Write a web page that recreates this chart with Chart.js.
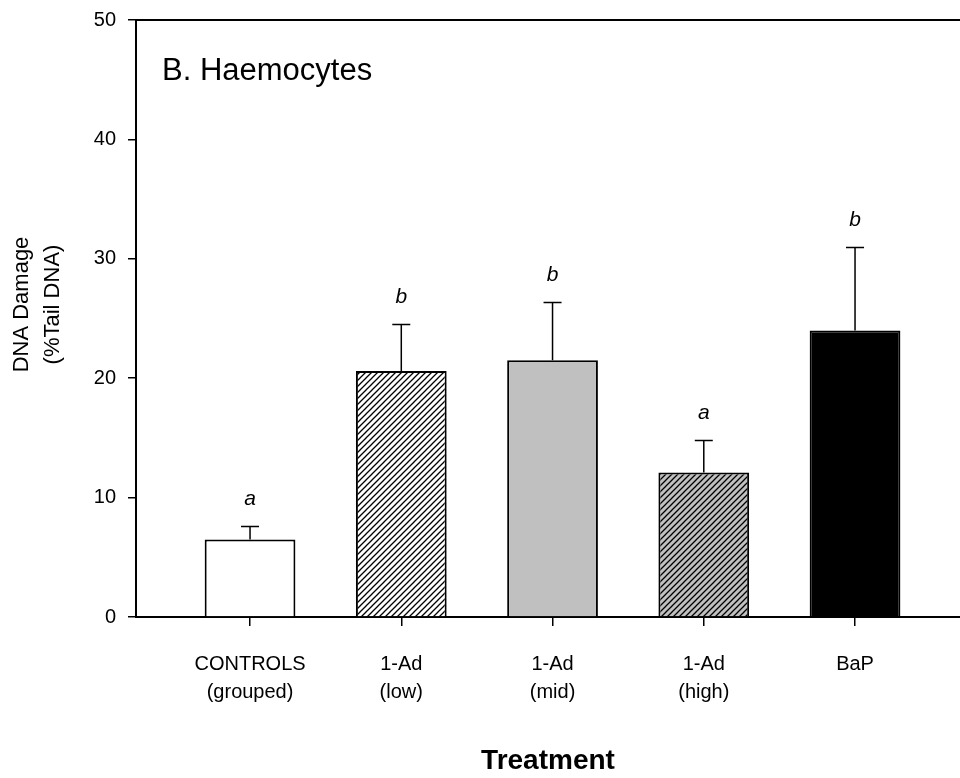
<!DOCTYPE html>
<html>
<head>
<meta charset="utf-8">
<script src="https://cdn.jsdelivr.net/npm/chart.js@4.4.1/dist/chart.umd.min.js"></script>
<style>
  html, body { margin: 0; padding: 0; background: #fff; }
  #wrap { width: 960px; height: 778px; }
</style>
</head>
<body>
<div id="wrap"><canvas id="damageChart"></canvas></div>
<script>
// treatments and values
const treatments = [['CONTROLS', '(grouped)'], ['1-Ad', '(low)'], ['1-Ad', '(mid)'], ['1-Ad', '(high)'], ['BaP']];
const tailDna = [6.5, 20.6, 21.5, 12.1, 24.0];
const tailDnaErr = [1.07, 3.9, 4.85, 2.68, 6.95];
const groupLetters = ['a', 'b', 'b', 'a', 'b'];
const yTicks = [0, 10, 20, 30, 40, 50];
const yTitle = ['DNA Damage', '(%Tail DNA)'];

const FONT = '"Liberation Sans", Arial, sans-serif';

// diagonal hatch fill
function hatch(bg) {
    const c = document.createElement('canvas');
    c.width = 6; c.height = 6;
    const g = c.getContext('2d');
    g.fillStyle = bg;
    g.fillRect(0, 0, 6, 6);
    g.strokeStyle = '#000';
    g.lineWidth = 1.3;
    g.beginPath();
    g.moveTo(-1, 7); g.lineTo(7, -1);
    g.moveTo(-1, 1); g.lineTo(1, -1);
    g.moveTo(5, 7); g.lineTo(7, 5);
    g.stroke();
    return g.createPattern(c, 'repeat');
}

const fills = ['#ffffff', hatch('#ffffff'), '#c0c0c0', hatch('#c0c0c0'), '#000000'];

// error bars, significance letters, panel label, top frame line, y title
const extras = {
    id: 'extras',
    afterDatasetsDraw(chart) {
        const ctx = chart.ctx;
        const y = chart.scales.y;
        const area = chart.chartArea;
        const bars = chart.getDatasetMeta(0).data;
        ctx.save();
        ctx.strokeStyle = '#000';
        ctx.lineWidth = 2;
        ctx.beginPath();
        ctx.moveTo(area.left, area.top);
        ctx.lineTo(area.right, area.top);
        ctx.stroke();
        ctx.lineWidth = 1.5;
        bars.forEach((bar, i) => {
            const top = y.getPixelForValue(tailDna[i]);
            const cap = y.getPixelForValue(tailDna[i] + tailDnaErr[i]);
            ctx.beginPath();
            ctx.moveTo(bar.x, top);
            ctx.lineTo(bar.x, cap);
            ctx.moveTo(bar.x - 9, cap);
            ctx.lineTo(bar.x + 9, cap);
            ctx.stroke();
            ctx.fillStyle = '#000';
            ctx.font = 'italic 21px ' + FONT;
            ctx.textAlign = 'center';
            ctx.textBaseline = 'middle';
            ctx.fillText(groupLetters[i], bar.x, cap - 27);
        });
        ctx.font = '31px ' + FONT;
        ctx.textAlign = 'left';
        ctx.textBaseline = 'alphabetic';
        ctx.fillText('B. Haemocytes', area.left + 26, area.top + 60);

        // y title sits a little above the axis middle in the original
        ctx.translate(22, (area.top + area.bottom) / 2 - 14);
        ctx.rotate(-Math.PI / 2);
        ctx.font = '22px ' + FONT;
        ctx.textAlign = 'center';
        ctx.textBaseline = 'middle';
        yTitle.forEach((t, i) => ctx.fillText(t, 0, i * 31));
        ctx.restore();
    }
};

new Chart(document.getElementById('damageChart'), {
    type: 'bar',
    data: {
        datasets: [{
            data: tailDna.map((v, i) => ({ x: i, y: v })),
            backgroundColor: fills,
            borderColor: '#000',
            borderWidth: 2,
            borderSkipped: 'start',
            categoryPercentage: 1,
            barPercentage: 0.6
        }]
    },
    options: {
        responsive: true,
        maintainAspectRatio: false,
        animation: false,
        layout: { padding: { top: 20, right: 0, bottom: 0, left: 0 } },
        plugins: {
            legend: { display: false },
            tooltip: { enabled: false }
        },
        scales: {
            x: {
                type: 'linear',
                position: 'bottom',
                offset: false,
                min: -0.754,
                max: 4.694,
                afterBuildTicks: (s) => { s.ticks = treatments.map((t, i) => ({ value: i })); },
                afterFit: (s) => { s.height = 161; s.paddingLeft = 0; s.paddingRight = 0; },
                ticks: {
                    callback: (v) => treatments[v],
                    color: '#000',
                    font: { family: FONT, size: 20, lineHeight: 1.4 },
                    padding: 24,
                    maxRotation: 0,
                    autoSkip: false
                },
                grid: { offset: false, drawOnChartArea: false, drawTicks: true, tickLength: 9, color: '#000', lineWidth: 1.5 },
                border: { display: true, color: '#000', width: 2 },
                title: {
                    display: true,
                    text: 'Treatment',
                    color: '#000',
                    font: { family: FONT, size: 28, weight: 'bold', lineHeight: 1.2 },
                    padding: { top: 0, bottom: 0 }
                }
            },
            y: {
                min: 0,
                max: 50,
                afterBuildTicks: (s) => { s.ticks = yTicks.map(v => ({ value: v })); },
                afterFit: (s) => { s.width = 136; s.paddingTop = 0; s.paddingBottom = 0; },
                ticks: {
                    color: '#000',
                    font: { family: FONT, size: 20 },
                    padding: 12
                },
                grid: { drawOnChartArea: false, drawTicks: true, tickLength: 8, color: '#000', lineWidth: 1.5 },
                border: { display: true, color: '#000', width: 2 }
            }
        }
    },
    plugins: [extras]
});
</script>
</body>
</html>
